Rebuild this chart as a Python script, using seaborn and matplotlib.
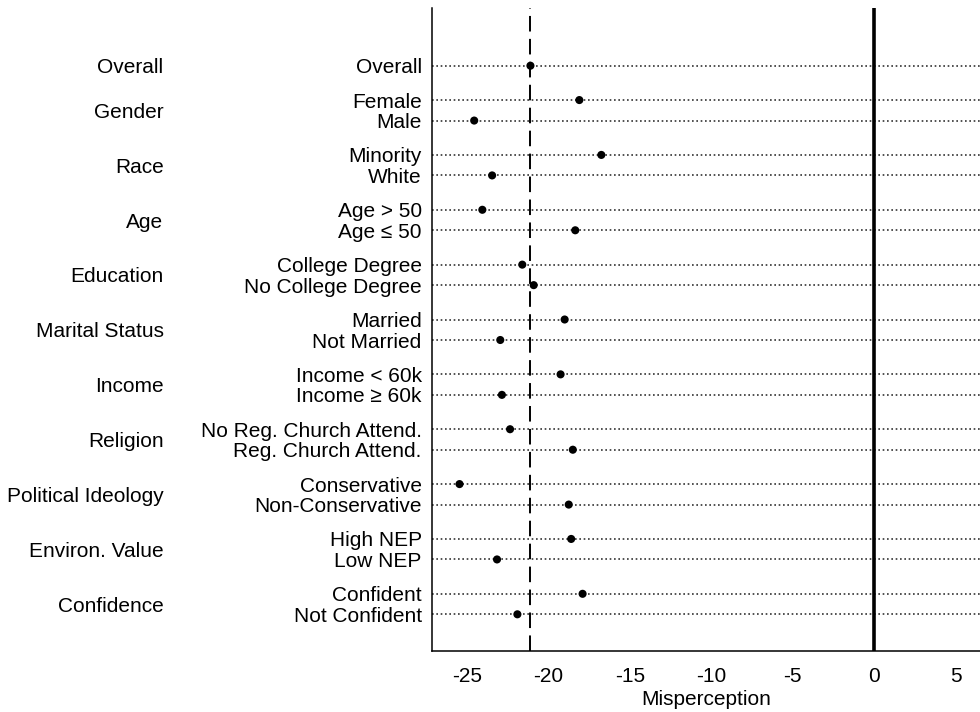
import numpy as np
import pandas as pd
import matplotlib
matplotlib.use("Agg")
import matplotlib.pyplot as plt
import seaborn as sns
from matplotlib.transforms import blended_transform_factory

# ---- data ----
group_names = ["Overall", "Gender", "Race", "Age", "Education", "Marital Status",
               "Income", "Religion", "Political Ideology", "Environ. Value", "Confidence"]
row_labels = ["Overall", "Female", "Male", "Minority", "White", "Age > 50", "Age \u2264 50",
              "College Degree", "No College Degree", "Married", "Not Married",
              "Income < 60k", "Income \u2265 60k", "No Reg. Church Attend.", "Reg. Church Attend.",
              "Conservative", "Non-Conservative", "High NEP", "Low NEP",
              "Confident", "Not Confident"]
row_group = [0, 1, 1, 2, 2, 3, 3, 4, 4, 5, 5, 6, 6, 7, 7, 8, 8, 9, 9, 10, 10]
values = [-21.1, -18.1, -24.55, -16.75, -23.45, -24.05, -18.35,
          -21.6, -20.9, -19.0, -22.95, -19.25, -22.85, -22.35, -18.5,
          -25.45, -18.75, -18.6, -23.15, -17.9, -21.9]
overall_mean = -21.1
x_ticks = [-25, -20, -15, -10, -5, 0, 5]
x_tick_labels = ["-25", "-20", "-15", "-10", "-5", "0", "5"]
x_label = "Misperception"

# ---- layout ----
group_gap = 0.676
pos = [i + g * group_gap for i, g in enumerate(row_group)]
df = pd.DataFrame({"label": row_labels, "group": row_group, "value": values, "pos": pos})

sns.set_theme(style="white")
plt.rcParams["font.family"] = ["Liberation Sans", "DejaVu Sans"]

fig = plt.figure(figsize=(9.8, 7.12), dpi=100)
ax = fig.add_axes([432.3 / 980, 1 - 651 / 712, 1 - 432.3 / 980, (651 - 8.3) / 712])

for y in df["pos"]:
    ax.axhline(y, color="#333333", lw=1.2, linestyle=(0, (1, 1.6)), zorder=1)
ax.axvline(overall_mean, color="black", lw=1.4, dashes=(8, 3.8), zorder=2)
ax.axvline(0, color="black", lw=2.6, zorder=2)

sns.scatterplot(data=df, x="value", y="pos", ax=ax, color="black", s=34,
                edgecolor="none", zorder=5, legend=False)

ax.set_xlim(-27.12, 6.48)
ax.set_ylim(df["pos"].max() + 1.79, -2.8)

ax.set_xticks(x_ticks)
ax.set_xticklabels(x_tick_labels)
ax.set_yticks(df["pos"])
ax.set_yticklabels(df["label"])
ax.tick_params(axis="x", length=7.3, width=1.0, labelsize=15, pad=4.5, color="black", labelcolor="black")
ax.tick_params(axis="y", length=0, labelsize=15, pad=7.6, labelcolor="black")
ax.set_xlabel(x_label, fontsize=15, labelpad=2.5, color="black")
ax.set_ylabel("")

for s in ["top", "right"]:
    ax.spines[s].set_visible(False)
for s in ["left", "bottom"]:
    ax.spines[s].set_color("black")
    ax.spines[s].set_linewidth(1.1)

trans = blended_transform_factory(fig.transFigure, ax.transData)
for gi, gname in enumerate(group_names):
    ys = df.loc[df["group"] == gi, "pos"]
    ax.text(163.5 / 980, ys.mean(), gname, transform=trans, ha="right", va="center_baseline",
            fontsize=15, color="black", clip_on=False)

fig.savefig("out.png", dpi=100)
